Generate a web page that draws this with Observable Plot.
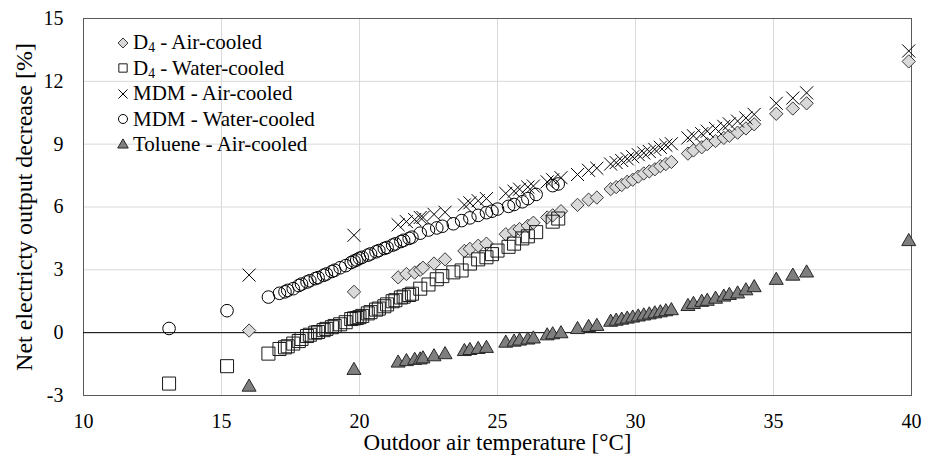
<!DOCTYPE html>
<html><head><meta charset="utf-8">
<script src="https://cdn.jsdelivr.net/npm/d3@7"></script>
<script src="https://cdn.jsdelivr.net/npm/@observablehq/plot@0.6"></script>
<style>
body{margin:0;background:#fff;}
#wrap{position:relative;width:931px;height:457px;}
#legend{position:absolute;left:116px;top:30px;font-size:21px;color:#000;}
.row{display:flex;align-items:center;height:25.5px;white-space:nowrap;}
.row svg{width:14px;height:14px;margin-right:3px;flex:none;}
sub{font-size:0.65em;vertical-align:-0.2em;line-height:0;}
</style></head><body><div id="wrap"><div id="legend"></div></div>
<script>
// Air-cooled series share outdoor temperatures
const airTemps = [16.0, 19.8, 21.4, 21.7, 22.0, 22.2, 22.3, 22.7, 23.1, 23.8,
  24.0, 24.3, 24.6, 25.3, 25.6, 25.8, 26.1, 26.3, 26.8, 27.0,
  27.3, 27.9, 28.3, 28.6, 29.1, 29.3, 29.5, 29.7, 29.9, 30.1,
  30.3, 30.5, 30.7, 30.9, 31.1, 31.3, 31.9, 32.1, 32.4, 32.6,
  32.9, 33.2, 33.4, 33.7, 34.0, 34.3, 35.1, 35.7, 36.2, 39.9];
const d4Air = [0.1, 1.95, 2.64, 2.8, 2.87, 3.0, 3.1, 3.3, 3.5, 3.9,
  4.0, 4.15, 4.25, 4.7, 4.85, 4.95, 5.1, 5.25, 5.5, 5.6,
  5.8, 6.1, 6.35, 6.45, 6.85, 6.95, 7.05, 7.2, 7.3, 7.45,
  7.6, 7.7, 7.8, 7.95, 8.05, 8.15, 8.55, 8.7, 8.85, 9.0,
  9.15, 9.3, 9.4, 9.55, 9.75, 9.95, 10.45, 10.7, 10.95, 12.95];
const mdmAir = [2.75, 4.65, 5.15, 5.3, 5.4, 5.5, 5.5, 5.65, 5.75, 6.1,
  6.2, 6.3, 6.4, 6.65, 6.75, 6.85, 6.95, 7.0, 7.2, 7.3,
  7.4, 7.55, 7.75, 7.85, 8.05, 8.12, 8.22, 8.3, 8.4, 8.5,
  8.58, 8.65, 8.75, 8.85, 8.95, 9.02, 9.3, 9.4, 9.5, 9.62,
  9.75, 9.85, 9.97, 10.1, 10.25, 10.42, 10.95, 11.2, 11.45, 13.45];
const tolueneAir = [-2.6, -1.8, -1.45, -1.38, -1.32, -1.3, -1.25, -1.15, -1.05, -0.9,
  -0.85, -0.8, -0.75, -0.5, -0.45, -0.4, -0.35, -0.3, -0.15, -0.1,
  -0.05, 0.15, 0.25, 0.3, 0.5, 0.55, 0.6, 0.65, 0.7, 0.75,
  0.8, 0.85, 0.9, 0.95, 1.0, 1.05, 1.25, 1.35, 1.45, 1.5,
  1.6, 1.7, 1.78, 1.85, 2.0, 2.15, 2.5, 2.7, 2.85, 4.35];
// Water-cooled series share outdoor temperatures
const waterTemps = [13.1, 15.2, 16.7, 17.1, 17.3, 17.4, 17.6, 17.8, 17.9, 18.1,
  18.2, 18.4, 18.5, 18.7, 18.8, 19.0, 19.1, 19.3, 19.5, 19.7,
  19.8, 19.9, 20.0, 20.1, 20.3, 20.4, 20.6, 20.7, 20.9, 21.0,
  21.2, 21.3, 21.5, 21.6, 21.8, 21.9, 22.2, 22.5, 22.8, 23.0,
  23.4, 23.7, 24.0, 24.3, 24.6, 24.8, 25.0, 25.4, 25.6, 25.9,
  26.1, 26.4, 27.0, 27.2];
const d4Water = [-2.43, -1.6, -1.0, -0.78, -0.7, -0.65, -0.52, -0.4, -0.3, -0.16,
  -0.1, 0.0, 0.03, 0.12, 0.18, 0.26, 0.32, 0.4, 0.5, 0.65,
  0.68, 0.7, 0.74, 0.8, 0.92, 0.98, 1.1, 1.15, 1.26, 1.35,
  1.5, 1.55, 1.68, 1.72, 1.8, 1.86, 2.1, 2.3, 2.55, 2.7,
  2.88, 2.97, 3.3, 3.5, 3.6, 3.75, 3.92, 4.1, 4.25, 4.5,
  4.6, 4.8, 5.3, 5.45];
const mdmWater = [0.2, 1.05, 1.7, 1.88, 1.95, 2.02, 2.1, 2.25, 2.32, 2.42,
  2.48, 2.58, 2.63, 2.74, 2.8, 2.92, 2.98, 3.1, 3.2, 3.35,
  3.42, 3.47, 3.55, 3.6, 3.7, 3.76, 3.86, 3.92, 4.02, 4.07,
  4.18, 4.24, 4.35, 4.41, 4.5, 4.56, 4.75, 4.9, 5.0, 5.08,
  5.2, 5.35, 5.48, 5.6, 5.73, 5.8, 5.9, 6.03, 6.12, 6.25,
  6.4, 6.6, 7.02, 7.1];

const xTicks = [10, 15, 20, 25, 30, 35, 40];
const yTicks = [-3, 0, 3, 6, 9, 12, 15];
const xLabel = "Outdoor air temperature [°C]";
const yLabel = "Net electricty output decrease [%]";
const legendFluids = ["D", "D", "MDM", "MDM", "Toluene"];
const legendSubs = ["4", "4", "", "", ""];
const legendCooling = ["Air-cooled", "Water-cooled", "Air-cooled", "Water-cooled", "Air-cooled"];

const FONT = "'Liberation Serif','Times New Roman',Times,'Nimbus Roman','DejaVu Serif',serif";
const toRows = (ts, vs) => ts.map((t, i) => ({t, v: vs[i]}));

const styles = [
  {data: toRows(airTemps, d4Air), symbol: "diamond2", r: 6.0, fill: "#d9d9d9", stroke: "#3a3a3a", lsym: d3.symbolDiamond2, lsize: 64},
  {data: toRows(waterTemps, d4Water), symbol: "square2", r: 8.3, fill: "none", stroke: "#1a1a1a", lsym: d3.symbolSquare2, lsize: 88},
  {data: toRows(airTemps, mdmAir), symbol: "times", r: 6.0, fill: "none", stroke: "#000", lsym: d3.symbolTimes, lsize: 55},
  {data: toRows(waterTemps, mdmWater), symbol: "circle", r: 6.3, fill: "none", stroke: "#000", lsym: d3.symbolCircle, lsize: 64},
  {data: toRows(airTemps, tolueneAir), symbol: "triangle", r: 5.2, fill: "#7f7f7f", stroke: "#262626", lsym: d3.symbolTriangle, lsize: 48}
];

const chart = Plot.plot({
  width: 931, height: 457,
  marginLeft: 83, marginRight: 20, marginTop: 18, marginBottom: 62,
  style: {fontFamily: FONT, fontSize: "20px", background: "white", color: "#000", overflow: "visible"},
  x: {domain: [10, 40]},
  y: {domain: [-3, 15]},
  marks: [
    Plot.gridX(xTicks, {stroke: "#d9d9d9", strokeOpacity: 1, strokeWidth: 1}),
    Plot.gridY(yTicks, {stroke: "#d9d9d9", strokeOpacity: 1, strokeWidth: 1}),
    Plot.frame({stroke: "#595959", strokeWidth: 1}),
    Plot.ruleY([0], {stroke: "#000", strokeWidth: 1}),
    Plot.axisX(xTicks, {tickSize: 0, tickPadding: 18, label: null, tickFormat: d => String(d), fill: "#000", fontSize: 20}),
    Plot.axisY(yTicks, {tickSize: 0, tickPadding: 20, label: null, tickFormat: d => String(d), fill: "#000", fontSize: 20}),
    ...styles.map(s => Plot.dot(s.data, {x: "t", y: "v", symbol: s.symbol, r: s.r, fill: s.fill, stroke: s.stroke, strokeWidth: 1})),
    Plot.text([xLabel], {frameAnchor: "bottom", textAnchor: "middle", lineAnchor: "middle", dy: 47, text: d => d, fontSize: 23, fill: "#000"}),
    Plot.text([yLabel], {frameAnchor: "left", textAnchor: "middle", lineAnchor: "middle", dx: -59, rotate: -90, text: d => d, fontSize: 24, fill: "#000"})
  ]
});
d3.select(chart).selectAll("text").style("font-family", FONT);
const wrap = document.getElementById("wrap");
wrap.insertBefore(chart, wrap.firstChild);
chart.style.position = "absolute";
chart.style.left = "0"; chart.style.top = "0";

const legend = d3.select("#legend");
styles.forEach((s, i) => {
  const row = legend.append("div").attr("class", "row").style("font-family", FONT);
  const svg = row.append("svg").attr("viewBox", "-7 -7 14 14");
  svg.append("path").attr("d", d3.symbol(s.lsym, s.lsize)())
    .attr("fill", s.fill).attr("stroke", s.stroke).attr("stroke-width", 1);
  const span = row.append("span").style("font-family", FONT);
  span.append("span").style("font-family", FONT).text(legendFluids[i]);
  if (legendSubs[i]) span.append("sub").style("font-family", FONT).text(legendSubs[i]);
  span.append("span").style("font-family", FONT).text(" - " + legendCooling[i]);
});
</script></body></html>
